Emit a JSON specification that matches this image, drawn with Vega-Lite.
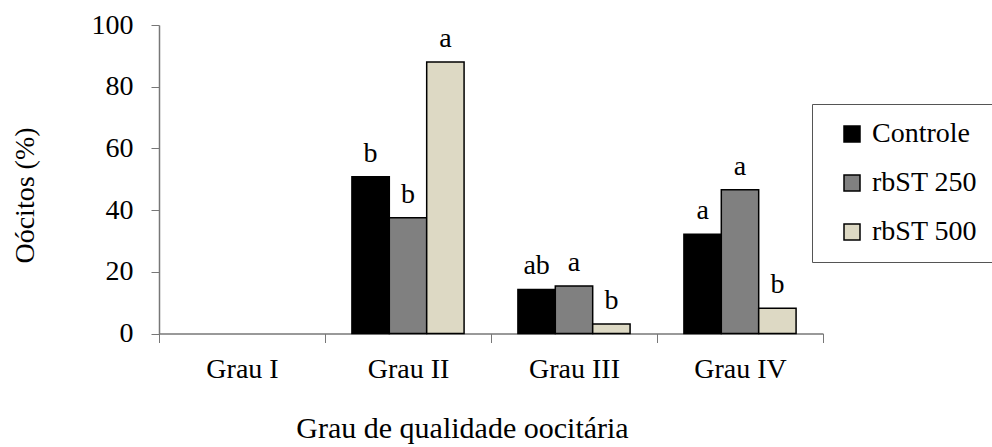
{
  "$schema": "https://vega.github.io/schema/vega-lite/v6.json",
  "autosize": {"type": "none"},
  "width": 664,
  "height": 308.5,
  "padding": {"left": 159, "top": 25, "right": 169, "bottom": 113.5},
  "background": "white",
  "config": {
    "view": {"stroke": null},
    "font": "'Liberation Serif', 'Times New Roman', serif",
    "axis": {"labelFont": "'Liberation Serif', 'Times New Roman', serif", "titleFont": "'Liberation Serif', 'Times New Roman', serif", "labelFontSize": 28, "titleFontSize": 28, "labelColor": "black", "titleColor": "black", "titleFontWeight": "normal", "domainColor": "#777", "tickColor": "#777", "grid": false},
    "legend": {"labelFont": "'Liberation Serif', 'Times New Roman', serif"},
    "text": {"font": "'Liberation Serif', 'Times New Roman', serif"}
  },
  "data": {
    "values": [
      {"grau": "Grau I", "trat": "Controle", "valor": 0, "letra": ""},
      {"grau": "Grau I", "trat": "rbST 250", "valor": 0, "letra": ""},
      {"grau": "Grau I", "trat": "rbST 500", "valor": 0, "letra": ""},
      {"grau": "Grau II", "trat": "Controle", "valor": 50.8, "letra": "b"},
      {"grau": "Grau II", "trat": "rbST 250", "valor": 37.5, "letra": "b"},
      {"grau": "Grau II", "trat": "rbST 500", "valor": 88.0, "letra": "a"},
      {"grau": "Grau III", "trat": "Controle", "valor": 14.3, "letra": "ab"},
      {"grau": "Grau III", "trat": "rbST 250", "valor": 15.4, "letra": "a"},
      {"grau": "Grau III", "trat": "rbST 500", "valor": 3.1, "letra": "b"},
      {"grau": "Grau IV", "trat": "Controle", "valor": 32.2, "letra": "a"},
      {"grau": "Grau IV", "trat": "rbST 250", "valor": 46.6, "letra": "a"},
      {"grau": "Grau IV", "trat": "rbST 500", "valor": 8.2, "letra": "b"}
    ]
  },
  "encoding": {
    "x": {
      "field": "grau", "type": "nominal",
      "scale": {"domain": ["Grau I", "Grau II", "Grau III", "Grau IV"], "paddingInner": 0, "paddingOuter": 0},
      "axis": {"title": "Grau de qualidade oocitária", "titleFontSize": 30, "labelAngle": 0, "tickBand": "extent", "tickSize": 9, "labelPadding": 13, "titlePadding": 30, "domainWidth": 1.5, "titleX": 303}
    },
    "xOffset": {
      "field": "trat", "type": "nominal",
      "scale": {"domain": ["Controle", "rbST 250", "rbST 500"], "paddingInner": 0, "paddingOuter": 0.72}
    },
    "y": {
      "field": "valor", "type": "quantitative",
      "scale": {"domain": [0, 100], "nice": false},
      "axis": {"title": "Oócitos (%)", "values": [0, 20, 40, 60, 80, 100], "tickSize": 8, "labelPadding": 18, "titlePadding": 52, "domainWidth": 1.5, "titleY": 170}
    }
  },
  "layer": [
    {
      "transform": [{"filter": "datum.valor > 0"}],
      "mark": {"type": "bar", "stroke": "black", "strokeWidth": 1.5},
      "encoding": {
        "fill": {
          "field": "trat", "type": "nominal",
          "scale": {"domain": ["Controle", "rbST 250", "rbST 500"], "range": ["#000000", "#808080", "#DDD9C4"]},
          "legend": {
            "title": null, "orient": "none", "legendX": 653, "legendY": 79,
            "direction": "vertical",
            "strokeColor": "#555", "padding": 16, "symbolOffset": 10,
            "symbolType": "square", "symbolSize": 256, "symbolStrokeColor": "black", "symbolStrokeWidth": 1.5,
            "labelFontSize": 28, "labelColor": "black", "labelOffset": 6,
            "rowPadding": 21, "fillColor": "white"
          }
        }
      }
    },
    {
      "mark": {"type": "text", "fontSize": 28, "baseline": "alphabetic", "dy": -15, "color": "black"},
      "encoding": {"text": {"field": "letra"}}
    }
  ]
}
